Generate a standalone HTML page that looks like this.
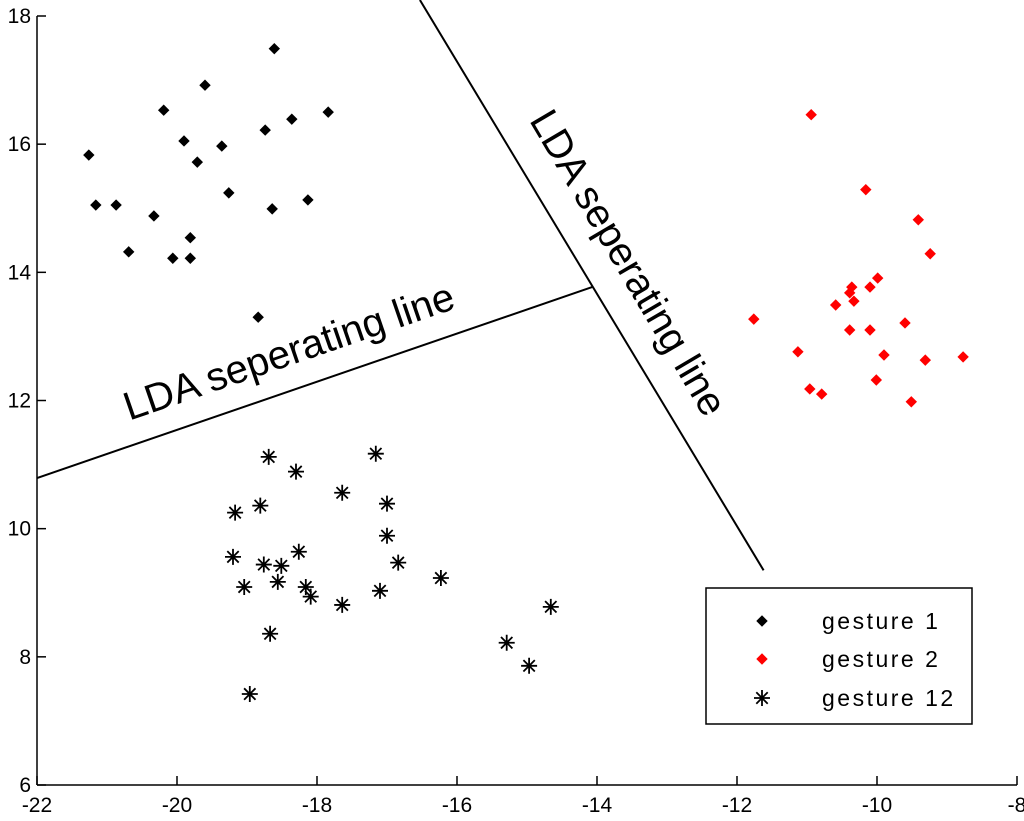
<!DOCTYPE html>
<html><head><meta charset="utf-8"><style>
html,body{margin:0;padding:0;background:#fff;}
svg{display:block;font-family:"Liberation Sans",Arial,sans-serif;}
</style></head><body>
<svg id="chart" width="1024" height="821" viewBox="0 0 1024 821"></svg>
<script>
const xTicks=[-22,-20,-18,-16,-14,-12,-10,-8];
const yTicks=[6,8,10,12,14,16,18];
const g1x=[-21.26,-21.16,-20.87,-20.19,-19.6,-18.61,-19.9,-19.71,-19.36,-18.36,-17.84,-18.74,-19.26,-20.33,-18.64,-18.13,-20.69,-19.81,-20.06,-19.81,-18.84];
const g1y=[15.83,15.05,15.05,16.53,16.92,17.49,16.05,15.72,15.97,16.39,16.50,16.22,15.24,14.88,14.99,15.13,14.32,14.54,14.22,14.22,13.30];
const g2x=[-10.94,-10.16,-9.41,-9.24,-11.76,-10.36,-10.39,-9.99,-10.1,-10.33,-10.59,-10.39,-10.1,-9.6,-11.13,-9.9,-9.31,-8.77,-10.01,-10.96,-10.79,-9.51];
const g2y=[16.46,15.29,14.82,14.29,13.27,13.77,13.68,13.91,13.77,13.55,13.49,13.10,13.10,13.21,12.76,12.71,12.63,12.68,12.32,12.18,12.10,11.98];
const g12x=[-18.69,-17.16,-18.3,-17.64,-18.81,-17.0,-19.17,-17.0,-19.2,-18.26,-18.76,-18.51,-16.84,-19.04,-18.56,-18.16,-18.09,-16.23,-17.1,-17.64,-14.66,-18.67,-15.29,-14.97,-18.96];
const g12y=[11.12,11.17,10.89,10.56,10.36,10.39,10.25,9.89,9.56,9.64,9.44,9.42,9.47,9.09,9.17,9.09,8.94,9.23,9.03,8.81,8.78,8.36,8.22,7.86,7.42];
const line1x=[-22,-14.07];const line1y=[10.79,13.77];
const line2x=[-16.53,-11.62];const line2y=[18.25,9.35];

const L=37,R=1017,T=16,B=785;
const sx=v=>L+(v+22)/14*(R-L);
const sy=v=>B-(v-6)/12*(B-T);
const svg=document.getElementById('chart');
const NS='http://www.w3.org/2000/svg';
function mk(tag,attrs){const e=document.createElementNS(NS,tag);for(const k in attrs)e.setAttribute(k,attrs[k]);svg.appendChild(e);return e;}

let e=mk('line',{x1:L,y1:B,x2:R,y2:B,stroke:'#000','stroke-width':1.5});


e=mk('line',{x1:L,y1:T,x2:L,y2:B,stroke:'#000','stroke-width':1.5});


xTicks.forEach(t=>{
  const x=sx(t);
  mk('line',{x1:x,y1:B,x2:x,y2:B-9,stroke:'#000','stroke-width':1.5});
  const tx=mk('text',{x:x,y:B+27,'text-anchor':'middle','font-size':21});
  tx.textContent=t;
  
  
});
yTicks.forEach(t=>{
  const y=sy(t);
  mk('line',{x1:L,y1:y,x2:L+9,y2:y,stroke:'#000','stroke-width':1.5});
  const tx=mk('text',{x:L-6,y:y+7,'text-anchor':'end','font-size':21});
  tx.textContent=t;
  
  
});

e=mk('line',{x1:sx(line1x[0]),y1:sy(line1y[0]),x2:sx(line1x[1]),y2:sy(line1y[1]),stroke:'#000','stroke-width':2});


e=mk('line',{x1:sx(line2x[0]),y1:sy(line2y[0]),x2:sx(line2x[1]),y2:sy(line2y[1]),stroke:'#000','stroke-width':2});



e=mk('text',{x:289,y:352,'text-anchor':'middle','dominant-baseline':'central','font-size':40,transform:'rotate(-19 289 352)'});
e.textContent='LDA seperating line';


e=mk('text',{x:628,y:263,'text-anchor':'middle','dominant-baseline':'central','font-size':40,transform:'rotate(59.5 628 263)'});
e.textContent='LDA seperating line';



function dot(x,y,c){
  return mk('path',{d:`M${x-5},${y}L${x},${y-5}L${x+5},${y}L${x},${y+5}Z`,fill:c,stroke:c,'stroke-width':1});
}
function star(x,y){
  const r=8,d=5.7;
  return mk('path',{d:`M${x-r},${y}H${x+r}M${x},${y-r}V${y+r}M${x-d},${y-d}L${x+d},${y+d}M${x-d},${y+d}L${x+d},${y-d}`,stroke:'#000','stroke-width':1.8,fill:'none'});
}
g1x.forEach((v,i)=>{const p=dot(sx(v),sy(g1y[i]),'#000');
  
  });
g2x.forEach((v,i)=>{const p=dot(sx(v),sy(g2y[i]),'#f00');
  
  });
g12x.forEach((v,i)=>{const p=star(sx(v),sy(g12y[i]));
  
  });

e=mk('rect',{x:706,y:588,width:266,height:136,fill:'#fff',stroke:'#000','stroke-width':1.5});


const lg=[['gesture 1','dot','#000',621],['gesture 2','dot','#f00',659],['gesture 12','star','#000',698]];
lg.forEach(r=>{
  const m=r[1]==='dot'?dot(762,r[3],r[2]):star(762,r[3]);
  
  
  const t=mk('text',{x:822,y:r[3]+8,'font-size':23,'letter-spacing':2.5});
  t.textContent=r[0];
  
  
});
</script>
</body></html>
